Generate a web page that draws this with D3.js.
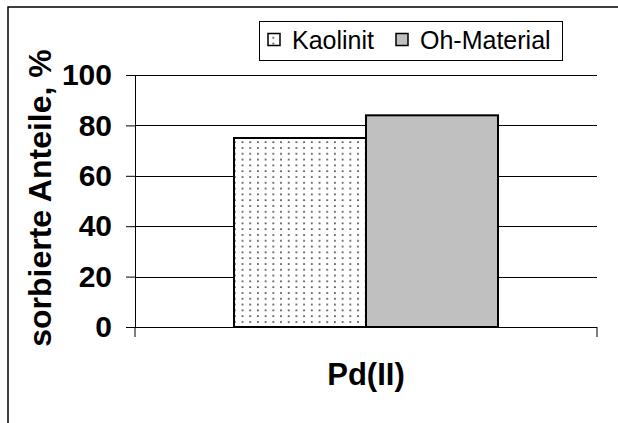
<!DOCTYPE html>
<html><head><meta charset="utf-8">
<script src="https://cdn.jsdelivr.net/npm/d3@7"></script>
<style>body{margin:0;background:#fff}svg{display:block}text{font-family:"Liberation Sans",Arial,sans-serif}</style>
</head><body>
<script>
const categories = ["Pd(II)"];
const seriesNames = ["Kaolinit", "Oh-Material"];
const kaolinit = [75];
const ohMaterial = [84];
const yTicks = [0, 20, 40, 60, 80, 100];

const W = 618, H = 423;
const svg = d3.select("body").append("svg").attr("width", W).attr("height", H);
const defs = svg.append("defs");
const pat = defs.append("pattern").attr("id","dots").attr("patternUnits","userSpaceOnUse")
  .attr("width",7.7).attr("height",5.8);
pat.append("rect").attr("width",7.7).attr("height",5.8).attr("fill","#fff");
pat.append("rect").attr("x",3).attr("y",2.2).attr("width",1.6).attr("height",1.6).attr("fill","#333");

// outer frame
svg.append("rect").attr("x",8).attr("y",7).attr("width",640).attr("height",450)
  .attr("fill","none").attr("stroke","#000").attr("stroke-width",1.5);

const plotL = 135, plotR = 597, plotT = 75, plotB = 327;
const y = d3.scaleLinear().domain([0,100]).range([plotB, plotT]);
const x0 = d3.scaleBand().domain(categories).range([plotL, plotR]).paddingInner(0).paddingOuter(0);
const groupW = x0.bandwidth() / 1.75;
const x1 = d3.scaleBand().domain(seriesNames).range([0, groupW]);

// gridlines
svg.append("g").selectAll("line").data(yTicks.filter(d=>d>0)).join("line")
  .attr("x1",plotL).attr("x2",plotR).attr("y1",d=>Math.round(y(d))+0.5).attr("y2",d=>Math.round(y(d))+0.5)
  .attr("stroke","#000").attr("stroke-width",1);

// y axis
const yAxis = d3.axisLeft(y).tickValues(yTicks).tickSize(9).tickPadding(14);
const gy = svg.append("g").attr("transform",`translate(${plotL},0)`).call(yAxis);
gy.select(".domain").attr("stroke","#000");
gy.selectAll(".tick line").attr("stroke","#000");
gy.selectAll("text").attr("font-size",30).attr("font-weight","bold").attr("fill","#000")
  .style("font-family","'Liberation Sans',Arial,sans-serif");

// bars
const data = categories.map((c,i)=>({cat:c, vals:[{s:seriesNames[0],v:kaolinit[i]},{s:seriesNames[1],v:ohMaterial[i]}]}));
const fills = {"Kaolinit":"url(#dots)","Oh-Material":"#c0c0c0"};
const gBars = svg.append("g");
data.forEach(d=>{
  const gx = x0(d.cat) + (x0.bandwidth()-groupW)/2;
  gBars.selectAll(null).data(d.vals).join("rect")
    .attr("x",e=>gx + x1(e.s)).attr("y",e=>y(e.v))
    .attr("width",x1.bandwidth()).attr("height",e=>y(0)-y(e.v))
    .attr("fill",e=>fills[e.s]).attr("stroke","#000").attr("stroke-width",2);
});

// x axis
const gx = svg.append("g");
gx.append("line").attr("x1",plotL).attr("x2",plotR).attr("y1",plotB+0.5).attr("y2",plotB+0.5).attr("stroke","#000");
gx.selectAll(".xt").data([plotL, plotR]).join("line").attr("class","xt")
  .attr("x1",d=>d).attr("x2",d=>d).attr("y1",plotB).attr("y2",plotB+10).attr("stroke","#000");
gx.selectAll(".xl").data(categories).join("text").attr("class","xl")
  .attr("x",d=>x0(d)+x0.bandwidth()/2).attr("y",385).attr("text-anchor","middle")
  .attr("font-size",31).attr("font-weight","bold").text(d=>d);

// y title
svg.append("text").attr("transform","translate(51,198) rotate(-90)").attr("text-anchor","middle")
  .attr("font-size",32).attr("font-weight","bold").text("sorbierte Anteile, %");

// legend
const lg = svg.append("g");
lg.append("rect").attr("x",259.5).attr("y",21.5).attr("width",303).attr("height",39)
  .attr("fill","#fff").attr("stroke","#000").attr("stroke-width",1);
const legX = [268, 396];
seriesNames.forEach((s,i)=>{
  lg.append("rect").attr("x",legX[i]).attr("y",33.5).attr("width",12).attr("height",12)
    .attr("fill",fills[s]).attr("stroke","#000").attr("stroke-width",1.5);
  lg.append("text").attr("x",legX[i]+24).attr("y",49).attr("font-size",25).text(s);
});
</script>
</body></html>
